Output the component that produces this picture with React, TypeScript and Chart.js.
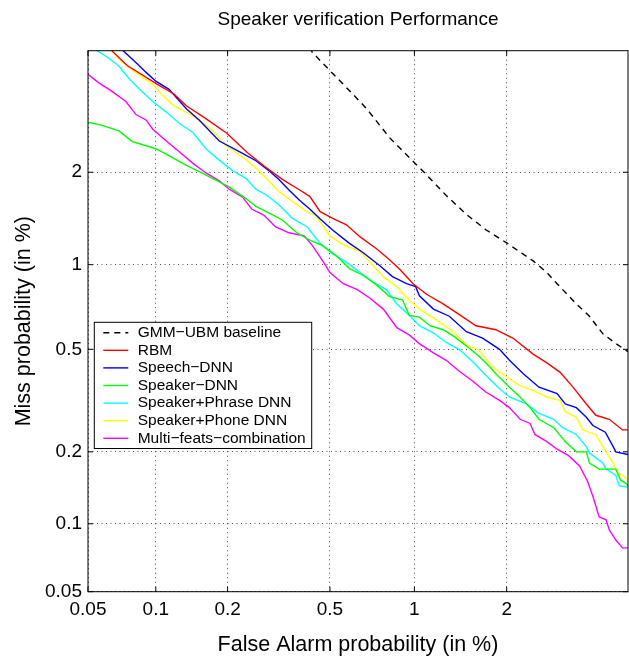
import React, { useEffect, useRef } from 'react';
import { Chart, registerables } from 'chart.js';

Chart.register(...registerables);

// ---- axis ticks (percent) ----
const TICK_VALUES = [0.05, 0.1, 0.2, 0.5, 1, 2];
const TICK_LABELS = ['0.05', '0.1', '0.2', '0.5', '1', '2'];
const AXIS_MIN = 0.05;
const AXIS_MAX = 4.5;

// ---- series (False Alarm %, Miss %) ----
const GMM_X = [0.42, 0.43, 0.5, 0.59, 0.68, 0.82, 1.01, 1.09, 1.28, 1.49, 1.72, 2.01, 2.41, 2.65, 2.84, 3.23, 3.52, 3.84, 4.13, 4.4, 4.5];
const GMM_Y = [4.6, 4.45, 3.97, 3.49, 3.1, 2.55, 2.12, 1.98, 1.69, 1.47, 1.31, 1.18, 1.03, 0.94, 0.86, 0.73, 0.66, 0.57, 0.53, 0.5, 0.49];

const RBM_X = [0.062, 0.064, 0.075, 0.1, 0.12, 0.135, 0.164, 0.198, 0.24, 0.28, 0.33, 0.385, 0.42, 0.46, 0.51, 0.575, 0.645, 0.74, 0.82, 0.89, 0.99, 1.1, 1.25, 1.41, 1.6, 1.85, 2.09, 2.41, 2.65, 2.9, 3.16, 3.45, 3.67, 4.0, 4.35, 4.5];
const RBM_Y = [4.7, 4.5, 4.1, 3.66, 3.41, 3.16, 2.89, 2.63, 2.3, 2.09, 1.9, 1.76, 1.68, 1.5, 1.43, 1.36, 1.24, 1.13, 1.04, 0.965, 0.86, 0.79, 0.73, 0.67, 0.61, 0.59, 0.55, 0.48, 0.445, 0.41, 0.36, 0.31, 0.28, 0.27, 0.245, 0.245];

const SPEECH_X = [0.07, 0.072, 0.083, 0.091, 0.1, 0.114, 0.135, 0.153, 0.185, 0.224, 0.26, 0.295, 0.32, 0.35, 0.385, 0.42, 0.46, 0.51, 0.59, 0.66, 0.76, 0.84, 0.94, 1.01, 1.04, 1.16, 1.31, 1.49, 1.68, 1.9, 2.04, 2.25, 2.51, 2.84, 3.0, 3.23, 3.45, 3.6, 3.9, 4.1, 4.17, 4.5];
const SPEECH_Y = [4.6, 4.5, 4.15, 3.92, 3.71, 3.52, 3.1, 2.87, 2.49, 2.31, 2.17, 2.01, 1.9, 1.76, 1.63, 1.53, 1.42, 1.31, 1.18, 1.1, 0.99, 0.91, 0.86, 0.84, 0.78, 0.7, 0.66, 0.58, 0.55, 0.5, 0.455, 0.405, 0.36, 0.34, 0.31, 0.3, 0.275, 0.255, 0.24, 0.21, 0.2, 0.195];

const SPEAKER_X = [0.05, 0.058, 0.069, 0.079, 0.091, 0.1, 0.114, 0.135, 0.153, 0.174, 0.203, 0.238, 0.26, 0.295, 0.33, 0.375, 0.42, 0.47, 0.53, 0.59, 0.66, 0.74, 0.82, 0.91, 0.96, 1.04, 1.13, 1.25, 1.35, 1.49, 1.64, 1.77, 1.85, 2.04, 2.2, 2.36, 2.51, 2.78, 3.0, 3.23, 3.45, 3.52, 3.75, 4.17, 4.3, 4.45, 4.5];
const SPEAKER_Y = [2.83, 2.77, 2.67, 2.48, 2.41, 2.36, 2.25, 2.1, 2.01, 1.91, 1.8, 1.65, 1.56, 1.48, 1.41, 1.28, 1.21, 1.16, 1.07, 0.97, 0.92, 0.85, 0.775, 0.755, 0.665, 0.655, 0.61, 0.59, 0.56, 0.515, 0.47, 0.43, 0.405, 0.36, 0.33, 0.3, 0.27, 0.25, 0.22, 0.2, 0.2, 0.18, 0.17, 0.17, 0.153, 0.148, 0.145];

const PHRASE_X = [0.053, 0.055, 0.062, 0.069, 0.077, 0.085, 0.097, 0.111, 0.126, 0.144, 0.163, 0.185, 0.21, 0.238, 0.26, 0.285, 0.32, 0.36, 0.41, 0.46, 0.51, 0.575, 0.645, 0.72, 0.8, 0.87, 0.96, 1.04, 1.16, 1.28, 1.41, 1.56, 1.72, 1.9, 2.04, 2.3, 2.51, 2.78, 2.95, 3.23, 3.45, 3.52, 3.84, 3.92, 4.17, 4.26, 4.5];
const PHRASE_Y = [4.65, 4.5, 4.3, 4.08, 3.75, 3.52, 3.25, 3.03, 2.81, 2.64, 2.36, 2.18, 2.02, 1.91, 1.77, 1.7, 1.58, 1.43, 1.34, 1.18, 1.09, 1.02, 0.94, 0.87, 0.82, 0.73, 0.665, 0.61, 0.575, 0.53, 0.5, 0.45, 0.4, 0.355, 0.33, 0.31, 0.285, 0.27, 0.25, 0.235, 0.21, 0.198, 0.18, 0.17, 0.16, 0.145, 0.143];

const PHONE_X = [0.062, 0.064, 0.071, 0.082, 0.097, 0.107, 0.118, 0.135, 0.153, 0.174, 0.197, 0.23, 0.26, 0.285, 0.32, 0.36, 0.41, 0.445, 0.5, 0.56, 0.645, 0.7, 0.78, 0.87, 0.94, 1.04, 1.19, 1.35, 1.49, 1.64, 1.81, 1.99, 2.2, 2.41, 2.65, 2.9, 3.0, 3.23, 3.37, 3.67, 3.84, 4.1, 4.22, 4.45, 4.5];
const PHONE_Y = [4.65, 4.5, 4.2, 3.92, 3.64, 3.39, 3.18, 3.03, 2.87, 2.67, 2.41, 2.23, 2.06, 1.92, 1.74, 1.62, 1.5, 1.45, 1.25, 1.17, 1.11, 1.02, 0.91, 0.84, 0.77, 0.7, 0.64, 0.58, 0.52, 0.495, 0.43, 0.395, 0.365, 0.35, 0.33, 0.32, 0.29, 0.275, 0.245, 0.235, 0.21, 0.18, 0.165, 0.156, 0.153];

const MULTI_X = [0.05, 0.056, 0.064, 0.074, 0.082, 0.091, 0.097, 0.111, 0.126, 0.144, 0.163, 0.185, 0.203, 0.23, 0.25, 0.28, 0.31, 0.35, 0.4, 0.43, 0.47, 0.5, 0.56, 0.63, 0.7, 0.78, 0.87, 0.96, 1.04, 1.16, 1.28, 1.41, 1.56, 1.72, 1.9, 2.04, 2.2, 2.36, 2.44, 2.65, 2.84, 3.07, 3.3, 3.48, 3.6, 3.75, 3.92, 4.0, 4.17, 4.35, 4.5];
const MULTI_Y = [3.88, 3.67, 3.48, 3.25, 2.98, 2.87, 2.7, 2.49, 2.31, 2.13, 1.99, 1.88, 1.77, 1.67, 1.53, 1.46, 1.34, 1.28, 1.25, 1.16, 1.03, 0.94, 0.86, 0.82, 0.765, 0.7, 0.6, 0.565, 0.525, 0.485, 0.455, 0.415, 0.38, 0.345, 0.32, 0.3, 0.27, 0.26, 0.235, 0.22, 0.205, 0.193, 0.175, 0.151, 0.131, 0.107, 0.104, 0.094, 0.085, 0.0785, 0.0785];

const FONT = "'Liberation Sans', Arial, Helvetica, sans-serif";

// inverse standard normal CDF (Acklam), input in percent -> normal deviate
function probit(pct: number): number {
  const p = pct / 100;
  const a = [-3.969683028665376e1, 2.209460984245205e2, -2.759285104469687e2, 1.38357751867269e2, -3.066479806614716e1, 2.506628277459239];
  const b = [-5.447609879822406e1, 1.615858368580409e2, -1.556989798598866e2, 6.680131188771972e1, -1.328068155288572e1];
  const c = [-7.784894002430293e-3, -3.223964580411365e-1, -2.400758277161838, -2.549732539343734, 4.374664141464968, 2.938163982698783];
  const d = [7.784695709041462e-3, 3.224671290700398e-1, 2.445134137142996, 3.754408661907416];
  const plow = 0.02425;
  if (p < plow) {
    const q = Math.sqrt(-2 * Math.log(p));
    return (((((c[0] * q + c[1]) * q + c[2]) * q + c[3]) * q + c[4]) * q + c[5]) /
      ((((d[0] * q + d[1]) * q + d[2]) * q + d[3]) * q + 1);
  }
  if (p <= 1 - plow) {
    const q = p - 0.5;
    const r = q * q;
    return (((((a[0] * r + a[1]) * r + a[2]) * r + a[3]) * r + a[4]) * r + a[5]) * q /
      (((((b[0] * r + b[1]) * r + b[2]) * r + b[3]) * r + b[4]) * r + 1);
  }
  const q = Math.sqrt(-2 * Math.log(1 - p));
  return -(((((c[0] * q + c[1]) * q + c[2]) * q + c[3]) * q + c[4]) * q + c[5]) /
    ((((d[0] * q + d[1]) * q + d[2]) * q + d[3]) * q + 1);
}

const SERIES = [
  { label: 'GMM\u2212UBM baseline', xs: GMM_X, ys: GMM_Y, color: '#000000', dash: [6, 5] },
  { label: 'RBM', xs: RBM_X, ys: RBM_Y, color: '#ff0000', dash: [] as number[] },
  { label: 'Speech\u2212DNN', xs: SPEECH_X, ys: SPEECH_Y, color: '#0000ff', dash: [] as number[] },
  { label: 'Speaker\u2212DNN', xs: SPEAKER_X, ys: SPEAKER_Y, color: '#00ff00', dash: [] as number[] },
  { label: 'Speaker+Phrase DNN', xs: PHRASE_X, ys: PHRASE_Y, color: '#00ffff', dash: [] as number[] },
  { label: 'Speaker+Phone DNN', xs: PHONE_X, ys: PHONE_Y, color: '#ffff00', dash: [] as number[] },
  { label: 'Multi\u2212feats\u2212combination', xs: MULTI_X, ys: MULTI_Y, color: '#ff00ff', dash: [] as number[] },
];

const framePlugin = {
  id: 'detFrame',
  afterDraw(chart: any) {
    const { ctx, chartArea: ca, scales } = chart;
    ctx.save();
    ctx.strokeStyle = '#000';
    ctx.lineWidth = 1;
    ctx.setLineDash([]);
    ctx.strokeRect(ca.left, ca.top, ca.right - ca.left, ca.bottom - ca.top);
    const tl = 5;
    ctx.beginPath();
    TICK_VALUES.forEach((v) => {
      const px = scales.x.getPixelForValue(probit(v));
      ctx.moveTo(px, ca.bottom); ctx.lineTo(px, ca.bottom - tl);
      ctx.moveTo(px, ca.top); ctx.lineTo(px, ca.top + tl);
      const py = scales.y.getPixelForValue(probit(v));
      ctx.moveTo(ca.left, py); ctx.lineTo(ca.left + tl, py);
      ctx.moveTo(ca.right, py); ctx.lineTo(ca.right - tl, py);
    });
    ctx.stroke();

    // legend box
    const lx = ca.left + 6.3;
    const ly = ca.top + 271.6;
    const rowH = 17.6;
    ctx.font = `15.5px ${FONT}`;
    const datasets = chart.data.datasets;
    let maxW = 0;
    datasets.forEach((ds: any) => { maxW = Math.max(maxW, ctx.measureText(ds.label).width); });
    const textX = lx + 43.4;
    const boxW = textX + maxW + 6 - lx;
    const boxH = rowH * datasets.length + 3;
    ctx.fillStyle = '#fff';
    ctx.fillRect(lx, ly, boxW, boxH);
    ctx.strokeStyle = '#000';
    ctx.lineWidth = 1;
    ctx.strokeRect(lx, ly, boxW, boxH);
    datasets.forEach((ds: any, i: number) => {
      const cy = ly + 10.4 + i * rowH;
      ctx.beginPath();
      ctx.strokeStyle = ds.borderColor;
      ctx.lineWidth = ds.borderWidth;
      ctx.setLineDash(ds.borderDash || []);
      ctx.moveTo(lx + 9, cy);
      ctx.lineTo(lx + 34, cy);
      ctx.stroke();
      ctx.setLineDash([]);
      ctx.fillStyle = '#000';
      ctx.textBaseline = 'middle';
      ctx.textAlign = 'left';
      ctx.fillText(ds.label, textX, cy);
    });
    ctx.restore();
  },
};

export default function App() {
  const ref = useRef<HTMLCanvasElement>(null);
  useEffect(() => {
    if (!ref.current) return;
    const tickOpts = (pad: number) => ({
      callback: (_v: any, i: number) => TICK_LABELS[i],
      font: { family: FONT, size: 19 },
      color: '#000',
      padding: pad,
      autoSkip: false,
      maxRotation: 0,
    });
    const gridOpts = { color: 'rgba(0,0,0,0.7)', lineWidth: 1, drawTicks: false };
    const chart = new Chart(ref.current, {
      type: 'line',
      data: {
        datasets: SERIES.map((s) => ({
          label: s.label,
          data: s.xs.map((x, i) => ({ x: probit(x), y: probit(s.ys[i]) })),
          borderColor: s.color,
          backgroundColor: s.color,
          borderWidth: 1.4,
          borderDash: s.dash,
          pointRadius: 0,
          tension: 0,
          fill: false,
        })),
      },
      options: {
        responsive: false,
        animation: false,
        devicePixelRatio: 1,
        layout: { padding: { left: 0, right: 1, top: 0, bottom: 0 } },
        plugins: {
          legend: { display: false },
          tooltip: { enabled: false },
          title: {
            display: true,
            text: 'Speaker verification Performance',
            color: '#000',
            font: { family: FONT, size: 19, weight: 'normal' },
            padding: { top: 8.6, bottom: 19.3 },
            fullSize: false,
          },
        },
        scales: {
          x: {
            type: 'linear',
            min: probit(AXIS_MIN),
            max: probit(AXIS_MAX),
            afterBuildTicks: (s: any) => { s.ticks = TICK_VALUES.map((v) => ({ value: probit(v) })); },
            afterFit: (s: any) => { s.height = 64.3; },
            ticks: tickOpts(6.5),
            grid: gridOpts,
            border: { display: false, dash: [1, 3.5] },
            title: {
              display: true,
              text: 'False Alarm probability (in %)',
              color: '#000',
              font: { family: FONT, size: 21.5 },
              padding: { top: 0, bottom: -2 },
            },
          },
          y: {
            type: 'linear',
            min: probit(AXIS_MIN),
            max: probit(AXIS_MAX),
            afterBuildTicks: (s: any) => { s.ticks = TICK_VALUES.map((v) => ({ value: probit(v) })); },
            afterFit: (s: any) => { s.width = 88; },
            ticks: tickOpts(6),
            grid: gridOpts,
            border: { display: false, dash: [1, 3.5] },
            title: {
              display: true,
              text: 'Miss probability (in %)',
              color: '#000',
              font: { family: FONT, size: 21.5 },
              padding: { top: 11, bottom: 0 },
            },
          },
        },
      } as any,
      plugins: [framePlugin],
    });
    return () => chart.destroy();
  }, []);
  return (
    <div style={{ position: 'absolute', left: 0, top: 0, width: 629, height: 656, background: '#fff' }}>
      <canvas ref={ref} width={629} height={656} style={{ display: 'block', width: 629, height: 656 }} />
    </div>
  );
}
